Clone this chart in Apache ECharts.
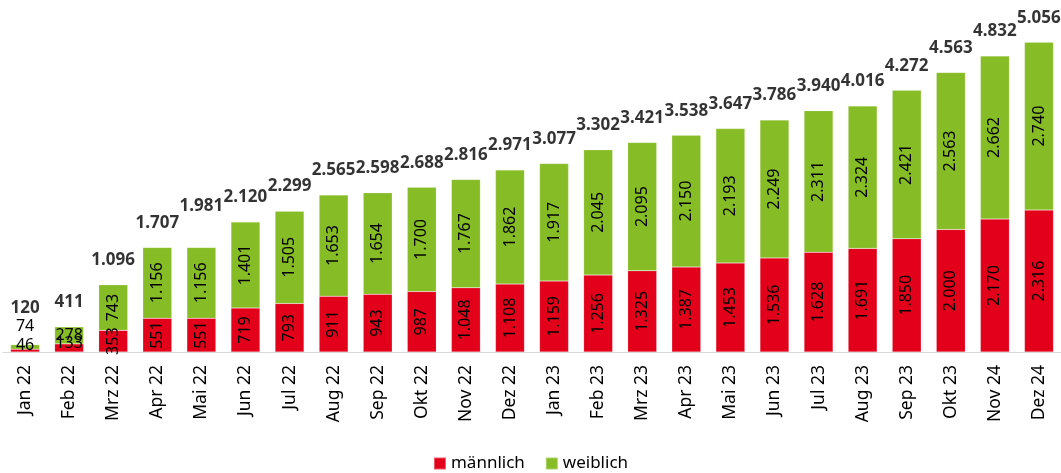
<!DOCTYPE html>
<html>
<head>
<meta charset="utf-8">
<script src="https://cdn.jsdelivr.net/npm/echarts@6/dist/echarts.min.js"></script>
<style>
  html, body { margin: 0; padding: 0; background: #fff; }
  #chart { width: 1061px; height: 473px; }
</style>
</head>
<body>
<div id="chart"></div>
<script>
  var months = ['Jan 22', 'Feb 22', 'Mrz 22', 'Apr 22', 'Mai 22', 'Jun 22', 'Jul 22', 'Aug 22',
    'Sep 22', 'Okt 22', 'Nov 22', 'Dez 22', 'Jan 23', 'Feb 23', 'Mrz 23', 'Apr 23', 'Mai 23',
    'Jun 23', 'Jul 23', 'Aug 23', 'Sep 23', 'Okt 23', 'Nov 24', 'Dez 24']
  var maennlich = [46, 133, 353, 551, 551, 719, 793, 911, 943, 987, 1048, 1108, 1159, 1256,
    1325, 1387, 1453, 1536, 1628, 1691, 1850, 2000, 2170, 2316]
  var weiblich = [74, 278, 743, 1156, 1156, 1401, 1505, 1653, 1654, 1700, 1767, 1862, 1917,
    2045, 2095, 2150, 2193, 2249, 2311, 2324, 2421, 2563, 2662, 2740]
  var gesamt = [120, 411, 1096, 1707, 1981, 2120, 2299, 2565, 2598, 2688, 2816, 2971, 3077,
    3302, 3421, 3538, 3647, 3786, 3940, 4016, 4272, 4563, 4832, 5056]

  var FONT = '"Noto Sans", "Open Sans", sans-serif'

  // Tausenderpunkt
  function fmt(v) {
    return String(v).replace(/\B(?=(\d{3})+(?!\d))/g, '.')
  }

  // die ersten beiden Monate haben waagerechte Labels
  function segData(arr, extra) {
    return arr.map(function (v, i) {
      if (i < 2) {
        var lbl = { rotate: 0 }
        if (extra && extra[i]) lbl.offset = extra[i]
        return { value: v, label: lbl }
      }
      return v
    })
  }

  var innerLabel = {
    show: true,
    position: 'inside',
    rotate: 90,
    fontFamily: FONT,
    fontSize: 16,
    color: '#000',
    formatter: function (p) { return fmt(p.value) },
  }

  var chart = echarts.init(document.getElementById('chart'))
  var option = {
    animation: false,
    grid: { left: 3, right: -4, top: 15, bottom: 121 },
    legend: {
      data: ['männlich', 'weiblich'],
      bottom: -4,
      left: 'center',
      icon: 'rect',
      itemWidth: 12,
      itemHeight: 12,
      itemGap: 20,
      textStyle: { fontFamily: FONT, fontSize: 17, color: '#000' },
    },
    xAxis: {
      type: 'category',
      data: months,
      axisLine: { lineStyle: { color: '#d9d9d9', width: 1 } },
      axisTick: { show: false },
      axisLabel: {
        rotate: 90,
        margin: 13,
        fontFamily: FONT,
        fontSize: 17.5,
        color: '#000',
      },
    },
    yAxis: {
      type: 'value',
      min: 0,
      max: 5500,
      show: false,
      splitLine: { show: false },
    },
    series: [
      {
        name: 'männlich',
        type: 'bar',
        stack: 'gesamt',
        barWidth: 29,
        itemStyle: { color: '#e2001a', borderColor: 'rgba(255,255,255,0.35)', borderWidth: 0.5 },
        label: innerLabel,
        data: segData(maennlich, [[0, -5], [0, -4]]),
      },
      {
        name: 'weiblich',
        type: 'bar',
        stack: 'gesamt',
        barWidth: 29,
        itemStyle: { color: '#86bc25', borderColor: 'rgba(255,255,255,0.35)', borderWidth: 0.5 },
        label: innerLabel,
        data: segData(weiblich, [[0, -20], [0, 0]]),
      },
      {
        name: 'Summe',
        type: 'scatter',
        symbolSize: 0,
        silent: true,
        label: {
          show: true,
          position: 'top',
          distance: 16,
          fontFamily: FONT,
          fontSize: 17,
          fontWeight: 'bold',
          color: '#000',
          formatter: function (p) { return fmt(p.value) },
        },
        data: gesamt.map(function (v, i) {
          return i === 0 ? { value: v, label: { offset: [0, -12] } } : v
        }),
      },
    ],
  }
  chart.setOption(option)
</script>
</body>
</html>
